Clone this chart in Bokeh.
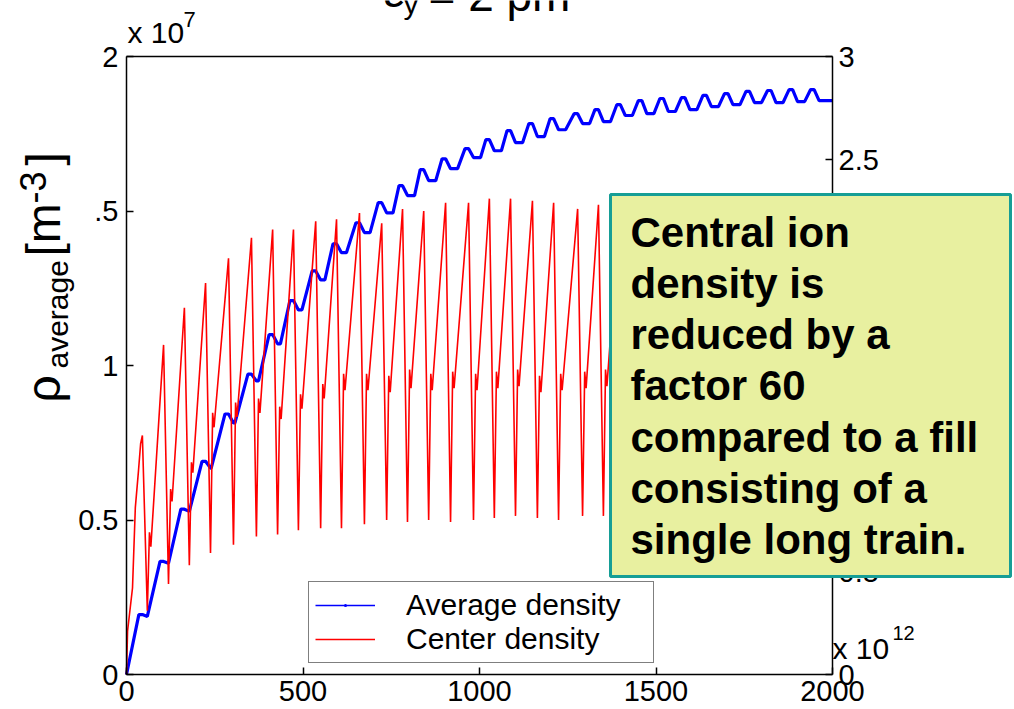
import math
from bokeh.plotting import figure
from bokeh.models import (Range1d, LinearAxis, Label, BoxAnnotation, Legend,
                          LegendItem, FixedTicker)
from bokeh.embed import file_html
from bokeh.resources import INLINE

# ---------------- data ----------------
x_ticks = [0, 500, 1000, 1500, 2000]
left_ticks = [0, 0.5, 1, 1.5, 2]
left_tick_labels = ["0", "0.5", "1", ".5", "2"]
right_ticks = [0, 0.5, 1, 1.5, 2, 2.5, 3]
right_tick_labels = ["0", "0.5", "1", "1.5", "2", "2.5", "3"]

# position of each train gap (drop of the centre density), x units
cycle_peak_x = [45, 105, 164, 224, 289, 354, 414, 473, 536, 595, 660, 723,
                782, 842, 904, 969, 1028, 1088, 1150, 1210, 1278, 1337,
                1399, 1460, 1521, 1582, 1643, 1704, 1765, 1826, 1887, 1948]
cycle_trough_x = [59, 119, 178, 238, 303, 368, 428, 487, 550, 609, 674, 737,
                  796, 856, 918, 983, 1042, 1102, 1164, 1224, 1292, 1351,
                  1413, 1474, 1535, 1596, 1657, 1718, 1779, 1840, 1901, 1962]

# centre density (right axis, x 10^12)
red_start_x = [0, 3, 17, 25, 34, 40]
red_start_y = [0.0, 0.21, 0.42, 0.81, 0.99, 1.12]
red_peak = [1.16, 1.60, 1.78, 1.90, 2.02, 2.12, 2.16, 2.16, 2.20, 2.21, 2.24,
            2.19, 2.26, 2.25, 2.29, 2.29, 2.31, 2.31, 2.30, 2.29, 2.26, 2.28,
            2.30, 2.31, 2.33, 2.30, 2.31, 2.30, 2.31, 2.30, 2.31, 2.30]
red_trough = [0.31, 0.44, 0.53, 0.59, 0.63, 0.67, 0.68, 0.70, 0.71, 0.71,
              0.73, 0.75, 0.74, 0.75, 0.74, 0.75, 0.76, 0.77, 0.76, 0.75,
              0.77, 0.77, 0.77, 0.76, 0.77, 0.77, 0.76, 0.77, 0.77, 0.76,
              0.77, 0.77]
red_mid = [0.69, 0.90, 1.03, 1.27, 1.32, 1.34, 1.30, 1.36, 1.41, 1.46, 1.46,
           1.45, 1.48, 1.46, 1.47, 1.46, 1.47, 1.48, 1.45, 1.46, 1.47, 1.48,
           1.46, 1.47, 1.45, 1.48, 1.46, 1.47, 1.46, 1.48, 1.47, 1.46]
red_kink = [0.62, 0.84, 0.98, 1.20, 1.25, 1.27, 1.24, 1.29, 1.34, 1.38, 1.38,
            1.37, 1.39, 1.38, 1.39, 1.38, 1.39, 1.40, 1.37, 1.38, 1.39, 1.40,
            1.38, 1.39, 1.37, 1.40, 1.38, 1.39, 1.38, 1.40, 1.39, 1.38]
red_end_y = 1.95

# average density (left axis, x 10^7)
blue_peak = [0.194, 0.366, 0.535, 0.690, 0.843, 0.972, 1.100, 1.210, 1.306,
             1.394, 1.462, 1.527, 1.582, 1.634, 1.669, 1.702, 1.731, 1.760,
             1.783, 1.799, 1.815, 1.828, 1.844, 1.857, 1.864, 1.867, 1.874,
             1.880, 1.887, 1.890, 1.893, 1.893]
blue_dip = [0.188, 0.360, 0.528, 0.668, 0.814, 0.950, 1.070, 1.180, 1.277,
            1.365, 1.430, 1.494, 1.550, 1.598, 1.637, 1.673, 1.695, 1.721,
            1.741, 1.763, 1.783, 1.789, 1.809, 1.815, 1.822, 1.828, 1.838,
            1.844, 1.851, 1.851, 1.854, 1.857]
blue_flat = [0, 0, 0, 2, 4, 6, 8, 10, 12, 14, 16, 18, 20, 20, 20, 20, 20, 20,
             20, 20, 20, 20, 20, 20, 20, 20, 20, 20, 20, 20, 20, 20]
blue_end_y = 1.857

legend_labels = ["Average density", "Center density"]
box_lines = ["Central ion", "density is", "reduced by a", "factor 60",
             "compared to a fill", "consisting of a", "single long train."]

# ---------------- build the polylines ----------------
rx, ry = list(red_start_x), list(red_start_y)
for i in range(len(cycle_peak_x)):
    t = cycle_trough_x[i]
    rx += [cycle_peak_x[i], t, t + 6, t + 10]
    ry += [red_peak[i], red_trough[i], red_mid[i], red_kink[i]]
rx.append(2000)
ry.append(red_end_y)

bx, by = [0], [0.0]
for i in range(len(cycle_peak_x)):
    bx += [cycle_peak_x[i] - 10, cycle_peak_x[i], cycle_trough_x[i],
           cycle_trough_x[i] + blue_flat[i]]
    by += [blue_peak[i], blue_peak[i], blue_dip[i], blue_dip[i]]
bx.append(2000)
by.append(blue_end_y)

# ---------------- figure ----------------
W, H = 1014, 709
FL, FT, FR, FB = 126, 56, 832, 674   # axes box edges in page pixels


def dx(px):
    return (px - FL) * 2000.0 / (FR - FL)


def dy(py):
    return (FB - py) * 2.0 / (FB - FT)


def dr(py):
    return (FB - py) * 3.0 / (FB - FT)


p = figure(width=W, height=H, x_range=Range1d(dx(0), dx(W)),
           y_range=Range1d(dy(H), dy(0)), output_backend="svg",
           toolbar_location=None, min_border=0, min_border_left=0,
           min_border_right=0, min_border_top=0, min_border_bottom=0)
p.title.visible = False
p.xgrid.visible = False
p.ygrid.visible = False
p.outline_line_color = None
p.background_fill_color = "white"
p.border_fill_color = "white"
p.extra_y_ranges = {"r": Range1d(dr(H), dr(0))}

# thin line + point markers (used for the legend key), covered by the thick trace
key_line = p.line(bx, by, line_color="#0000ff", line_width=1.5)
key_dot = p.scatter(bx, by, marker="dot", size=3, color="#0000ff")
blue = p.line(bx, by, line_color="#0000ff", line_width=3.2)
red = p.line(rx, ry, y_range_name="r", line_color="#ff0000", line_width=1.6)

xa = p.below[0]
xa.ticker = FixedTicker(ticks=x_ticks)
xa.major_label_overrides = {t: str(t) for t in x_ticks}
xa.fixed_location = 0
xa.bounds = (0, 2000)
xa.major_label_standoff = 6

ya = p.left[0]
ya.ticker = FixedTicker(ticks=left_ticks)
ya.major_label_overrides = dict(zip(left_ticks, left_tick_labels))
ya.fixed_location = 0
ya.bounds = (0, 2)
ya.major_label_standoff = 8

ra = LinearAxis(y_range_name="r", ticker=FixedTicker(ticks=right_ticks),
                major_label_overrides=dict(zip(right_ticks, right_tick_labels)),
                fixed_location=2000, bounds=(0, 3), major_label_standoff=6)
p.add_layout(ra, "right")

ta = LinearAxis(ticker=FixedTicker(ticks=[]), fixed_location=2,
                bounds=(0, 2000), major_label_text_font_size="0px")
p.add_layout(ta, "above")

for ax in (xa, ya, ra, ta):
    ax.major_tick_in = 7
    ax.major_tick_out = 0
    ax.minor_tick_line_color = None
    ax.axis_line_color = "black"
    ax.axis_line_width = 1.5
    ax.major_tick_line_color = "black"
    ax.major_tick_line_width = 1.5
    ax.major_label_text_font = "Liberation Sans"
    ax.major_label_text_color = "black"
for ax in (xa, ya, ra):
    ax.major_label_text_font_size = "29px"

legend = Legend(items=[LegendItem(label=legend_labels[0], renderers=[key_line, key_dot]),
                       LegendItem(label=legend_labels[1], renderers=[red])],
                location=(308, H - 663), margin=0, padding=6, spacing=0,
                glyph_width=60, glyph_height=30, label_height=30,
                label_standoff=31, label_width=241,
                label_text_font="Liberation Sans", label_text_font_size="30px",
                label_text_color="black",
                border_line_color="black", border_line_width=1.5,
                background_fill_color="white", background_fill_alpha=1.0)
p.add_layout(legend)

SHIFT = 0.36   # baseline correction (fraction of font size)


def lab(text, px, py, size, angle=0.0, **kw):
    if angle:
        px = px - SHIFT * size
    else:
        py = py - SHIFT * size
    return Label(x=dx(px), y=dy(py), text=text, text_font="Liberation Sans",
                 text_font_size=f"{size}px", text_color="black",
                 text_baseline="alphabetic", angle=angle, **kw)


# exponent labels
p.add_layout(lab("x 10", 127, 43, 30))
p.add_layout(lab("7", 183, 27, 22))
p.add_layout(lab("x 10", 832, 659, 30))
p.add_layout(lab("12", 892, 640, 20))

# title (cut off at the top in the reference)
p.add_layout(lab("\u03b5", 383, 7, 46))
p.add_layout(lab("y", 403, 14, 30))
p.add_layout(lab("= 2 pm", 428, 11, 46))

# rotated y label
rot = math.pi / 2
p.add_layout(lab("\u03c1", 60, 402, 48, angle=rot))
p.add_layout(lab("average", 68, 368, 30, angle=rot))
p.add_layout(lab("[m", 60, 256, 48, angle=rot))
p.add_layout(lab("-3", 45, 203, 36, angle=rot))
p.add_layout(lab("]", 60, 165, 48, angle=rot))

# yellow note
box = BoxAnnotation(left=dx(610), right=dx(1010), top=dy(194), bottom=dy(576),
                    fill_color="#e8f0a0", fill_alpha=1.0, line_color="#169e96",
                    line_alpha=1.0, line_width=3, level="overlay")
p.add_layout(box)
baselines = [247, 298, 349, 400, 452, 503, 554]
for t, b in zip(box_lines, baselines):
    p.add_layout(lab(t, 630, b, 42, text_font_style="bold", level="overlay"))

open("out.html", "w").write(file_html(p, INLINE))
